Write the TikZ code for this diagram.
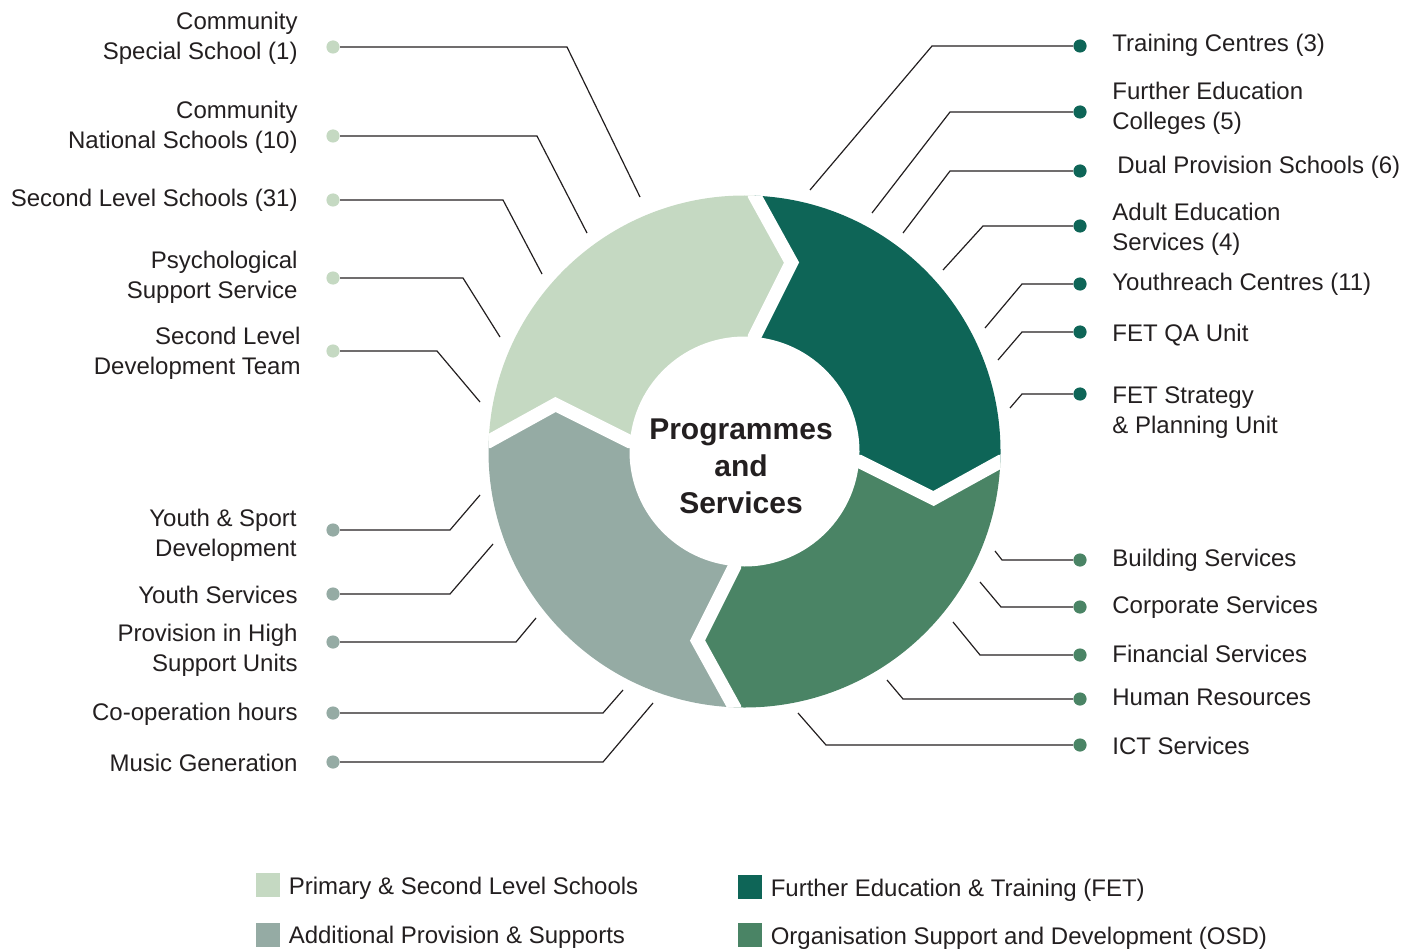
\documentclass[tikz,border=0pt]{standalone}
\usepackage{fontspec}
\setmainfont{Liberation Sans}
\usetikzlibrary{positioning}

\definecolor{psl}{HTML}{C5D9C2}
\definecolor{fet}{HTML}{0E6557}
\definecolor{aps}{HTML}{95ABA4}
\definecolor{osd}{HTML}{4A8465}
\definecolor{ink}{HTML}{231F20}

\begin{document}
\begin{tikzpicture}[x=0.5pt, y=-0.5pt,
    every node/.style={text=ink, font=\fontsize{12}{15}\selectfont},
    lbl/.style={inner sep=0pt, yshift=-0.8pt},
    dot/.style={circle, inner sep=0pt, minimum size=6.6pt},
    link/.style={draw=ink, line width=0.6pt},
    legsq/.style={inner sep=0pt, minimum size=12pt}]

    \useasboundingbox (0,0) rectangle (1423,952);

    % Ring of four arrow segments
    \begin{scope}[shift={(744.5,451.5)}]
        \clip (0,0) circle (256);
        \foreach \ang/\col in {0/psl, -90/fet, -180/osd, -270/aps}
            \fill[\col, rotate=\ang] (10,-300) -- (10,-256) -- (47,-189) -- (10,-115) -- (10,-10)
                -- (-115,-10) -- (-189,-47) -- (-256,-10) -- (-300,-10) -- (-300,-300) -- cycle;
        \foreach \ang in {0,-90,-180,-270}
            \draw[white, line width=6.7pt, rotate=\ang] (10,-300) -- (10,-256) -- (47,-189) -- (10,-115) -- (10,-60);
        \fill[white] (0,0) circle (115);
    \end{scope}
    \node[font=\bfseries\fontsize{15}{18.5}\selectfont, align=center] (hub) at (741,466) {Programmes\\and\\Services};

    % Primary & Second Level Schools (upper left)
    \node[lbl, anchor=east, align=right] (P1) at (298,37) {Community\\Special School (1)};
    \node[lbl, anchor=east, align=right] (P2) at (298,126) {Community\\National Schools (10)};
    \node[lbl, anchor=east] (P3) at (298,199) {Second Level Schools (31)};
    \node[lbl, anchor=east, align=right] (P4) at (298,275.5) {Psychological\\Support Service};
    \node[lbl, anchor=east, align=right] (P5) at (301,352) {Second Level\\Development Team};
    \node[dot, fill=psl] (P1-dot) at (333,47) {};
    \node[dot, fill=psl] (P2-dot) at (333,136) {};
    \node[dot, fill=psl] (P3-dot) at (333,200) {};
    \node[dot, fill=psl] (P4-dot) at (333,278) {};
    \node[dot, fill=psl] (P5-dot) at (333,351) {};
    \coordinate (P1-bend) at (567,47);  \coordinate (P1-end) at (640,197);
    \coordinate (P2-bend) at (537,136); \coordinate (P2-end) at (587,233);
    \coordinate (P3-bend) at (503,200); \coordinate (P3-end) at (542,274);
    \coordinate (P4-bend) at (463,278); \coordinate (P4-end) at (500,337);
    \coordinate (P5-bend) at (437,351); \coordinate (P5-end) at (480,402);
    \draw[link] (P1-dot) -- (P1-bend) -- (P1-end);
    \draw[link] (P2-dot) -- (P2-bend) -- (P2-end);
    \draw[link] (P3-dot) -- (P3-bend) -- (P3-end);
    \draw[link] (P4-dot) -- (P4-bend) -- (P4-end);
    \draw[link] (P5-dot) -- (P5-bend) -- (P5-end);

    % Additional Provision & Supports (lower left)
    \node[lbl, anchor=east, align=right] (A1) at (297,533.5) {Youth \& Sport\\Development};
    \node[lbl, anchor=east] (A2) at (298,593) {Youth Services};
    \node[lbl, anchor=east, align=right] (A3) at (298,649) {Provision in High\\Support Units};
    \node[lbl, anchor=east] (A4) at (298,713) {Co-operation hours};
    \node[lbl, anchor=east] (A5) at (298,761) {Music Generation};
    \node[dot, fill=aps] (A1-dot) at (333,530) {};
    \node[dot, fill=aps] (A2-dot) at (333,594) {};
    \node[dot, fill=aps] (A3-dot) at (333,642) {};
    \node[dot, fill=aps] (A4-dot) at (333,713) {};
    \node[dot, fill=aps] (A5-dot) at (333,762) {};
    \coordinate (A1-bend) at (450,530); \coordinate (A1-end) at (480,495);
    \coordinate (A2-bend) at (450,594); \coordinate (A2-end) at (493,544);
    \coordinate (A3-bend) at (516,642); \coordinate (A3-end) at (536,618);
    \coordinate (A4-bend) at (603,713); \coordinate (A4-end) at (623,690);
    \coordinate (A5-bend) at (603,762); \coordinate (A5-end) at (653,703);
    \draw[link] (A1-dot) -- (A1-bend) -- (A1-end);
    \draw[link] (A2-dot) -- (A2-bend) -- (A2-end);
    \draw[link] (A3-dot) -- (A3-bend) -- (A3-end);
    \draw[link] (A4-dot) -- (A4-bend) -- (A4-end);
    \draw[link] (A5-dot) -- (A5-bend) -- (A5-end);

    % Further Education & Training (upper right)
    \node[lbl, anchor=west] (F1) at (1112,44) {Training Centres (3)};
    \node[lbl, anchor=west, align=left] (F2) at (1112,107) {Further Education\\Colleges (5)};
    \node[lbl, anchor=west] (F3) at (1117,166) {Dual Provision Schools (6)};
    \node[lbl, anchor=west, align=left] (F4) at (1112,228) {Adult Education\\Services (4)};
    \node[lbl, anchor=west] (F5) at (1112,283) {Youthreach Centres (11)};
    \node[lbl, anchor=west] (F6) at (1112,333) {FET QA Unit};
    \node[lbl, anchor=west, align=left] (F7) at (1112,411) {FET Strategy\\\& Planning Unit};
    \node[dot, fill=fet] (F1-dot) at (1080,46) {};
    \node[dot, fill=fet] (F2-dot) at (1080,112) {};
    \node[dot, fill=fet] (F3-dot) at (1080,171) {};
    \node[dot, fill=fet] (F4-dot) at (1080,226) {};
    \node[dot, fill=fet] (F5-dot) at (1080,284) {};
    \node[dot, fill=fet] (F6-dot) at (1080,332) {};
    \node[dot, fill=fet] (F7-dot) at (1080,394) {};
    \coordinate (F1-bend) at (932,46);   \coordinate (F1-end) at (810,190);
    \coordinate (F2-bend) at (950,112);  \coordinate (F2-end) at (872,213);
    \coordinate (F3-bend) at (950,171);  \coordinate (F3-end) at (903,233);
    \coordinate (F4-bend) at (983,226);  \coordinate (F4-end) at (943,270);
    \coordinate (F5-bend) at (1022,284); \coordinate (F5-end) at (985,328);
    \coordinate (F6-bend) at (1022,332); \coordinate (F6-end) at (998,360);
    \coordinate (F7-bend) at (1022,394); \coordinate (F7-end) at (1010,408);
    \draw[link] (F1-dot) -- (F1-bend) -- (F1-end);
    \draw[link] (F2-dot) -- (F2-bend) -- (F2-end);
    \draw[link] (F3-dot) -- (F3-bend) -- (F3-end);
    \draw[link] (F4-dot) -- (F4-bend) -- (F4-end);
    \draw[link] (F5-dot) -- (F5-bend) -- (F5-end);
    \draw[link] (F6-dot) -- (F6-bend) -- (F6-end);
    \draw[link] (F7-dot) -- (F7-bend) -- (F7-end);

    % Organisation Support and Development (lower right)
    \node[lbl, anchor=west] (O1) at (1112,559) {Building Services};
    \node[lbl, anchor=west] (O2) at (1112,606) {Corporate Services};
    \node[lbl, anchor=west] (O3) at (1112,652) {Financial Services};
    \node[lbl, anchor=west] (O4) at (1112,696) {Human Resources};
    \node[lbl, anchor=west] (O5) at (1112,744) {ICT Services};
    \node[dot, fill=osd] (O1-dot) at (1080,560) {};
    \node[dot, fill=osd] (O2-dot) at (1080,607) {};
    \node[dot, fill=osd] (O3-dot) at (1080,655) {};
    \node[dot, fill=osd] (O4-dot) at (1080,699) {};
    \node[dot, fill=osd] (O5-dot) at (1080,745) {};
    \coordinate (O1-bend) at (1002,560); \coordinate (O1-end) at (995,551);
    \coordinate (O2-bend) at (1001,607); \coordinate (O2-end) at (980,582);
    \coordinate (O3-bend) at (980,655);  \coordinate (O3-end) at (953,622);
    \coordinate (O4-bend) at (903,699);  \coordinate (O4-end) at (887,680);
    \coordinate (O5-bend) at (826,745);  \coordinate (O5-end) at (798,713);
    \draw[link] (O1-dot) -- (O1-bend) -- (O1-end);
    \draw[link] (O2-dot) -- (O2-bend) -- (O2-end);
    \draw[link] (O3-dot) -- (O3-bend) -- (O3-end);
    \draw[link] (O4-dot) -- (O4-bend) -- (O4-end);
    \draw[link] (O5-dot) -- (O5-bend) -- (O5-end);

    % Legend
    \node[legsq, fill=psl] (leg-psl) at (268,885) {};
    \node[legsq, fill=aps] (leg-aps) at (268,935) {};
    \node[legsq, fill=fet] (leg-fet) at (750,886.5) {};
    \node[legsq, fill=osd] (leg-osd) at (750,935) {};
    \node[lbl, right=4pt of leg-psl, yshift=-1pt] {Primary \& Second Level Schools};
    \node[lbl, right=4pt of leg-aps, yshift=-0.5pt] {Additional Provision \& Supports};
    \node[lbl, right=4pt of leg-fet, yshift=-1pt] {Further Education \& Training (FET)};
    \node[lbl, right=4pt of leg-osd, yshift=-1pt] {Organisation Support and Development (OSD)};
\end{tikzpicture}
\end{document}
